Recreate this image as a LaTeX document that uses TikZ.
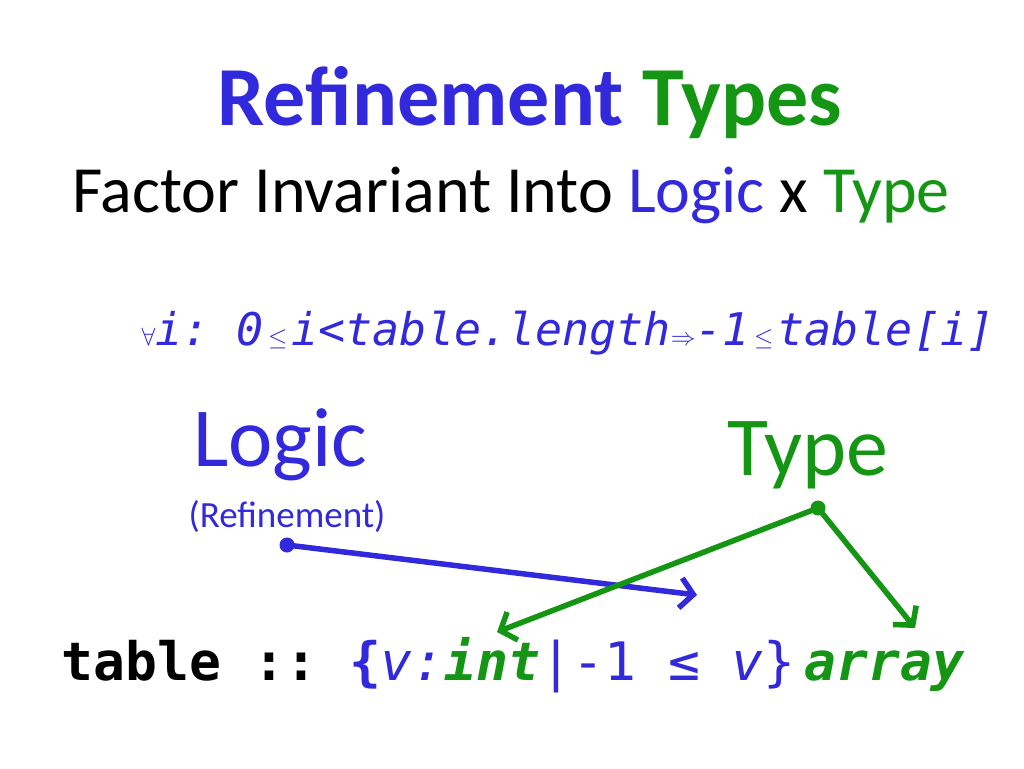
\documentclass[tikz,border=0pt]{standalone}
\usepackage{fontspec}
\usetikzlibrary{arrows.meta}
\setmainfont{Carlito}
\setmonofont{DejaVu Sans Mono}
\definecolor{tblue}{RGB}{50,40,220}
\definecolor{tgreen}{RGB}{20,150,20}
\begin{document}
\begin{tikzpicture}[x=1pt,y=-1pt,
  bar/.style={line width=5.5pt,-{Straight Barb[length=13pt,width=30pt]}}]
\useasboundingbox (0,0) rectangle (1024,768);
\node (title) at (530,103) {\fontsize{84}{90}\selectfont\bfseries{\color{tblue}Refinement} {\color{tgreen}Types}};
\node (sub) at (511,195) {\fontsize{66}{72}\selectfont Factor Invariant Into {\color{tblue}Logic} x {\color{tgreen}Type}};
\node[text=tblue] (formula) at (568,333) {\fontsize{45}{50}\selectfont$\forall$\ttfamily\itshape i: 0{\fontsize{28}{30}\selectfont$\,\leq\,$}i<table.length$\Rightarrow$-1{\fontsize{28}{30}\selectfont$\,\leq\,$}table[i]};
\node[text=tblue] (logic) at (280,445) {\fontsize{84}{90}\selectfont Logic};
\node[text=tblue] (ref) at (287,517) {\fontsize{37}{40}\selectfont (Refinement)};
\node[text=tgreen] (type) at (808,455) {\fontsize{84}{90}\selectfont Type};
\node (code) at (513,665) {\fontsize{53}{60}\selectfont\ttfamily\bfseries table :: \color{tblue}\{\mdseries\itshape v:\bfseries\color{tgreen}int\color{tblue}\mdseries\upshape|-1 ≤ \itshape v\upshape\}\,\bfseries\itshape\color{tgreen}array};
\coordinate (b1) at (287,545); \coordinate (b2) at (697,595);
\coordinate (g0) at (818,508); \coordinate (g1) at (497,632); \coordinate (g2) at (915,628);
\fill[tblue] (b1) circle (7.5);
\draw[bar,tblue] (b1) -- (b2);
\fill[tgreen] (g0) circle (7.5);
\draw[bar,tgreen] (g0) -- (g1);
\draw[bar,tgreen] (g0) -- (g2);
\end{tikzpicture}
\end{document}
